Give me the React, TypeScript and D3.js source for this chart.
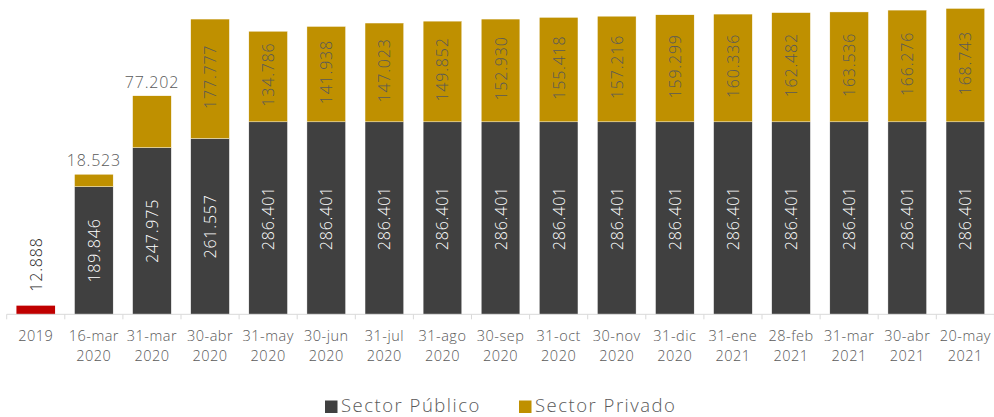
import React from "react";
import * as d3 from "d3";

const categories = [
  "2019", "16-mar 2020", "31-mar 2020", "30-abr 2020", "31-may 2020", "30-jun 2020",
  "31-jul 2020", "31-ago 2020", "30-sep 2020", "31-oct 2020", "30-nov 2020", "31-dic 2020",
  "31-ene 2021", "28-feb 2021", "31-mar 2021", "30-abr 2021", "20-may 2021",
];
const base2019 = [12.888];
const publico = [0, 189.846, 247.975, 261.557, 286.401, 286.401, 286.401, 286.401, 286.401, 286.401, 286.401, 286.401, 286.401, 286.401, 286.401, 286.401, 286.401];
const privado = [0, 18.523, 77.202, 177.777, 134.786, 141.938, 147.023, 149.852, 152.930, 155.418, 157.216, 159.299, 160.336, 162.482, 163.536, 166.276, 168.743];
const seriesNames = ["Sector Público", "Sector Privado"];

const W = 994, H = 417;
const FONT = "'Open Sans', 'DejaVu Sans', sans-serif";
const C_PUB = "#404040", C_PRI = "#BF9000", C_RED = "#C00000";

export default function App() {
  const x = d3.scaleBand<string>().domain(categories).range([6.7, 994.4]).paddingInner(0.335).paddingOuter(0.1675);
  const y = d3.scaleLinear().domain([0, 460]).range([314.3, 314.3 - 0.672 * 460]);
  const bw = x.bandwidth();
  const step = x.step();
  const y0 = y(0);
  const LS = 0.8;

  return (
    <svg width={W} height={H} style={{ position: "absolute", left: 0, top: 0, background: "#fff" }} fontFamily={FONT} fontWeight={300}>
      {categories.map((c, i) => {
        const bx = x(c)!;
        const cx = bx + bw / 2;
        if (i === 0) {
          const top = y(base2019[0]);
          return (
            <g key={c}>
              <rect x={bx} y={top} width={bw} height={y0 - top} fill={C_RED} />
              <text transform={`translate(${cx + 6},${top - 14}) rotate(-90)`} fontSize={16} letterSpacing={LS} fill="#262626">{base2019[0].toFixed(3)}</text>
            </g>
          );
        }
        const pTop = y(publico[i]);
        const sTop = y(publico[i] + privado[i]);
        const small = (pTop - sTop) < 70;
        return (
          <g key={c}>
            <rect x={bx} y={pTop} width={bw} height={y0 - pTop} fill={C_PUB} stroke="#fff" strokeWidth={0.4} />
            <rect x={bx} y={sTop} width={bw} height={pTop - sTop} fill={C_PRI} stroke="#fff" strokeWidth={0.4} />
            <text transform={`translate(${cx + 6},${(pTop + y0) / 2}) rotate(-90)`} textAnchor="middle" fontSize={16} letterSpacing={LS} fill="#fff">{publico[i].toFixed(3)}</text>
            {small ? (
              <text x={cx} y={sTop - 8} textAnchor="middle" fontSize={16} letterSpacing={LS} fill="#595959">{privado[i].toFixed(3)}</text>
            ) : (
              <text transform={`translate(${cx + 6},${(sTop + pTop) / 2 - 2}) rotate(-90)`} textAnchor="middle" fontSize={16} letterSpacing={LS} fill="#595959">{privado[i].toFixed(3)}</text>
            )}
          </g>
        );
      })}
      <line x1={6.7} x2={994.4} y1={y0} y2={y0} stroke="#D9D9D9" strokeWidth={1} />
      {d3.range(categories.length + 1).map((k) => (
        <line key={k} x1={6.7 + k * step} x2={6.7 + k * step} y1={y0} y2={y0 + 5} stroke="#D9D9D9" strokeWidth={1} />
      ))}
      {categories.map((c) => {
        const cx = x(c)! + bw / 2;
        const parts = c.split(" ");
        return (
          <text key={c} x={cx} textAnchor="middle" fontSize={14.5} letterSpacing={0.5} fill="#595959">
            {parts.map((p, j) => (
              <tspan key={j} x={cx} y={341 + j * 20}>{p}</tspan>
            ))}
          </text>
        );
      })}
      <g>
        <rect x={325} y={400.5} width={12.5} height={12.5} fill={C_PUB} />
        <text x={341} y={411.5} fontSize={18.5} letterSpacing={1.5} fill="#595959">{seriesNames[0]}</text>
        <rect x={519} y={400.5} width={12.5} height={12.5} fill={C_PRI} />
        <text x={535} y={411.5} fontSize={18.5} letterSpacing={1.5} fill="#595959">{seriesNames[1]}</text>
      </g>
    </svg>
  );
}
